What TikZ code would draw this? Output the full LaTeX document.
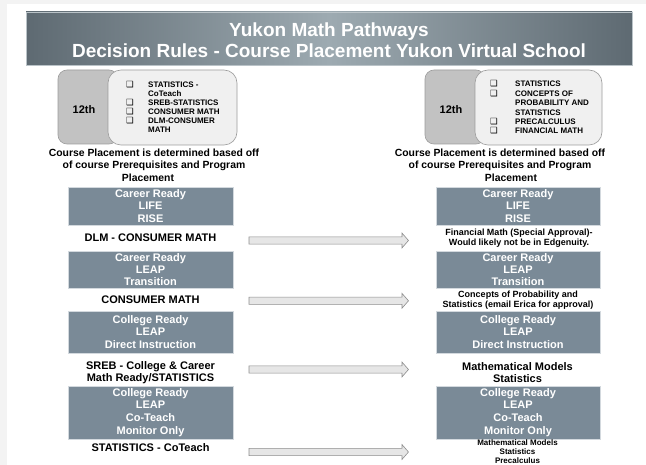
\documentclass[tikz,border=0pt]{standalone}
\usepackage{fontspec}
\setmainfont{Liberation Sans}
\newfontfamily\symfont{DejaVu Sans}

\definecolor{pagegray}{HTML}{F3F3F3}
\definecolor{bardark}{HTML}{5E6A72}
\definecolor{barlight}{HTML}{9DAAB1}
\definecolor{slate}{HTML}{7A8A97}
\definecolor{slateedge}{HTML}{D3D9DE}
\definecolor{gradefill}{HTML}{C2C2C2}
\definecolor{listfill}{HTML}{F0F0F0}
\definecolor{outline}{HTML}{9C9C9C}
\definecolor{arrowfill}{HTML}{E6E6E6}
\definecolor{arrowedge}{HTML}{8E8E8E}

% check-box bullet followed by a fixed gap
\newcommand{\bul}[1]{\makebox[#1][l]{\symfont\fontsize{8.5}{9}\selectfont ❑}}

\begin{document}
\begin{tikzpicture}[x=1pt,y=-1pt,
  titlebar/.style={draw=barlight!70!white, line width=0.6pt,
    left color=bardark, right color=bardark, middle color=barlight,
    minimum width=606pt, minimum height=53pt, inner sep=0pt},
  titletext/.style={text=white, font=\fontsize{19}{21.4}\selectfont\bfseries,
    align=center, inner sep=0pt},
  gradebox/.style={draw=outline, fill=gradefill, rounded corners=9pt,
    line width=0.6pt, inner sep=0pt},
  listbox/.style={draw=outline, fill=listfill, rounded corners=13pt,
    line width=0.6pt, inner sep=0pt},
  gradelabel/.style={font=\fontsize{11}{13}\selectfont\bfseries, inner sep=0pt},
  listtext/.style={inner sep=0pt, anchor=base west},
  heading/.style={font=\fontsize{10.4}{12.5}\selectfont\bfseries,
    align=center, inner sep=0pt},
  slatebox/.style={fill=slate, draw=slateedge, line width=0.7pt, text=white,
    font=\fontsize{11}{12.4}\selectfont\bfseries, align=center,
    inner sep=0pt, minimum width=165pt},
  course/.style={font=\fontsize{11}{12}\selectfont\bfseries, align=center,
    inner sep=0pt},
  note/.style={font=\fontsize{9}{10}\selectfont\bfseries, align=center,
    inner sep=0pt},
  tinynote/.style={font=\fontsize{8}{9.3}\selectfont\bfseries, align=center,
    inner sep=0pt},
  blockarrow/.style={draw=arrowedge, fill=arrowfill, line width=0.6pt,
    line join=miter}
]
% page
\fill[pagegray] (0,0) rectangle (646,465);
\fill[white] (7,4) rectangle (646,465);
\useasboundingbox (0,0) rectangle (646,465);

% title banner
\node[titlebar] (bar) at (329,38.5) {};
\node[titletext] (title) at (329,40.5)
  {Yukon Math Pathways\\Decision Rules - Course Placement Yukon Virtual School};

% grade 12 course lists
\node[gradebox, minimum width=60pt, minimum height=74pt] (gradeL) at (88,107) {};
\node[listbox, minimum width=129pt, minimum height=75pt] (listL) at (172.5,107.5) {};
\node[gradelabel] (gradeLtxt) at (84,110) {12th};
\node[listtext] (listLtxt) at (126,88) {\fontsize{8}{9}\selectfont\bfseries
  \begin{tabular}[t]{@{}l@{}l@{}}
  \bul{22pt} & STATISTICS -\\
             & CoTeach\\
  \bul{22pt} & SREB-STATISTICS\\
  \bul{22pt} & CONSUMER MATH\\
  \bul{22pt} & DLM-CONSUMER\\
             & MATH
  \end{tabular}};

\node[gradebox, minimum width=60pt, minimum height=74pt] (gradeR) at (455,107) {};
\node[listbox, minimum width=127pt, minimum height=75pt] (listR) at (538.5,107.5) {};
\node[gradelabel] (gradeRtxt) at (451,110) {12th};
\node[listtext] (listRtxt) at (490,87) {\fontsize{8}{9.4}\selectfont\bfseries
  \begin{tabular}[t]{@{}l@{}l@{}}
  \bul{25pt} & STATISTICS\\
  \bul{25pt} & CONCEPTS OF\\
             & PROBABILITY AND\\
             & STATISTICS\\
  \bul{25pt} & PRECALCULUS\\
  \bul{25pt} & FINANCIAL MATH
  \end{tabular}};

% placement headings
\node[heading] (headL) at (154,165)
  {Course Placement is determined based off\\of course Prerequisites and Program\\\hspace*{-12pt}Placement};
\node[heading] (headR) at (500,165)
  {Course Placement is determined based off\\of course Prerequisites and Program\\\hspace*{22pt}Placement};

% left column: programs and current courses
\node[slatebox, minimum height=38pt] (progL1) at (150.5,206) {Career Ready\\LIFE\\RISE};
\node[course] (crsL1) at (150.5,238) {DLM - CONSUMER MATH};
\node[slatebox, minimum height=37pt] (progL2) at (150.5,269.5) {Career Ready\\LEAP\\Transition};
\node[course] (crsL2) at (150.5,299.5) {CONSUMER MATH};
\node[slatebox, minimum height=42pt] (progL3) at (150.5,332) {College Ready\\LEAP\\Direct Instruction};
\node[course] (crsL3) at (150.5,372.5) {SREB - College \& Career\\Math Ready/STATISTICS};
\node[slatebox, minimum height=53pt, font=\fontsize{11}{12.7}\selectfont\bfseries] (progL4) at (150.5,412.5)
  {College Ready\\LEAP\\Co-Teach\\Monitor Only};
\node[course] (crsL4) at (150.5,448) {STATISTICS - CoTeach};

% right column: programs and placements
\node[slatebox, minimum width=164pt, minimum height=38pt] (progR1) at (518,206) {Career Ready\\LIFE\\RISE};
\node[note] (crsR1) at (519,238.5) {Financial Math (Special Approval)-\\Would likely not be in Edgenuity.};
\node[slatebox, minimum width=164pt, minimum height=37pt] (progR2) at (518,269.5) {Career Ready\\LEAP\\Transition};
\node[note] (crsR2) at (518,300.5) {Concepts of Probability and\\Statistics (email Erica for approval)};
\node[slatebox, minimum width=164pt, minimum height=42pt] (progR3) at (518,332) {College Ready\\LEAP\\Direct Instruction};
\node[course] (crsR3) at (517.5,372.5) {Mathematical Models\\Statistics};
\node[slatebox, minimum width=164pt, minimum height=53pt, font=\fontsize{11}{12.7}\selectfont\bfseries] (progR4) at (518,412.5)
  {College Ready\\LEAP\\Co-Teach\\Monitor Only};
\node[tinynote] (crsR4) at (517.5,451.6) {Mathematical Models\\Statistics\\Precalculus};

% placement arrows: a hollow shaft with a wide head, tail at the named point
\coordinate (arr1) at (249,240.5);
\coordinate (arr2) at (249,300.8);
\coordinate (arr3) at (249,369.5);
\coordinate (arr4) at (249,452);
\foreach \a in {arr1,arr2,arr3,arr4}
  \draw[blockarrow] (\a) ++(0,-3.6) -- ++(153,0) -- ++(0,-3.8) -- ++(6.5,7.4)
    -- ++(-6.5,7.4) -- ++(0,-3.8) -- ++(-153,0) -- cycle;
\end{tikzpicture}
\end{document}
